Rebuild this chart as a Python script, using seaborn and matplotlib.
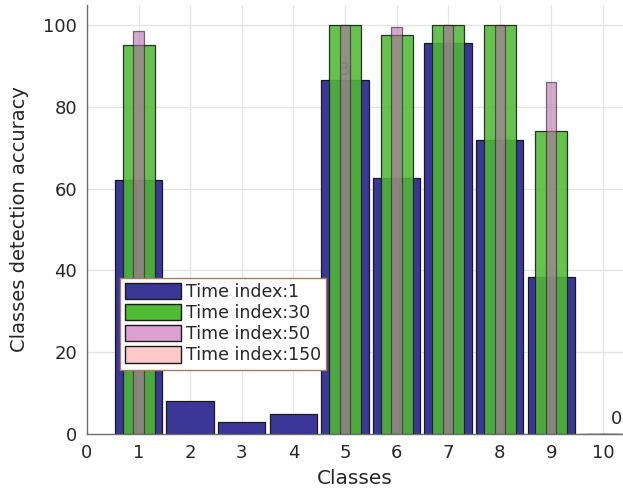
import matplotlib
matplotlib.use("Agg")
import matplotlib.pyplot as plt
import matplotlib.patches as mpatches
import seaborn as sns
import pandas as pd

# values
classes = [1, 2, 3, 4, 5, 6, 7, 8, 9, 10]
acc_t1 = [62, 8, 3, 5, 86.5, 62.5, 95.5, 72, 38.5, 0]
acc_t30 = [95, 0, 0, 0, 100, 97.5, 100, 100, 74, 0]
acc_t50 = [98.5, 0, 0, 0, 100, 99.5, 100, 100, 86, 0]
acc_t150 = [0, 0, 0, 0, 0, 0, 0, 0, 0, 0]
legend_labels = ["Time index:1", "Time index:30", "Time index:50", "Time index:150"]

df = pd.DataFrame({"cls": classes, "t1": acc_t1, "t30": acc_t30,
                   "t50": acc_t50, "t150": acc_t150})

sns.set_style("white")
plt.rcParams["font.family"] = ["DejaVu Sans"]

blue = "#3a3798"
green = "#4fba34"
pink = "#dca0d2"
light_pink = "#ffc8c8"

fig = plt.figure(figsize=(6.23, 4.95), dpi=100)
ax = fig.add_axes([0.1396, 0.1232, 0.8604, 0.8667])

sns.barplot(data=df, x="cls", y="t1", native_scale=True, width=0.92,
            color=blue, saturation=1, edgecolor="#1a1a1a", linewidth=0.9,
            ax=ax, zorder=2)
sns.barplot(data=df, x="cls", y="t30", native_scale=True, width=0.62,
            color=green, saturation=1, alpha=0.88, edgecolor="#1a1a1a",
            linewidth=0.9, ax=ax, zorder=3)
sns.barplot(data=df, x="cls", y="t50", native_scale=True, width=0.2,
            color="#b86aac", saturation=1, alpha=0.58, edgecolor="#1a1a1a",
            linewidth=0.9, ax=ax, zorder=4)

ax.set_xlim(0, 10.39)
ax.set_ylim(0, 104.9)
ax.set_xticks(range(0, 11))
ax.set_xticklabels([str(i) for i in range(0, 11)])
ax.set_yticks([0, 20, 40, 60, 80, 100])
ax.grid(True, color="#e4e4e4", linewidth=0.9, zorder=0)
ax.set_axisbelow(True)

for side in ["top", "right"]:
    ax.spines[side].set_visible(False)
for side in ["left", "bottom"]:
    ax.spines[side].set_color("#6e6e6e")
    ax.spines[side].set_linewidth(1.0)

ax.tick_params(axis="both", direction="in", length=4, color="#6e6e6e",
               labelsize=13, labelcolor="#262626", pad=7)
ax.set_xlabel("Classes", fontsize=14.5, color="#262626", labelpad=5)
ax.set_ylabel("Classes detection accuracy", fontsize=14, color="#262626",
              labelpad=10)

# stray labels seen in the reference
ax.text(5.0, 89, "3", color="#777777", alpha=0.5, fontsize=13,
        ha="center", va="center", zorder=5)
ax.text(10.38, 1.5, "0", color="#262626", fontsize=13, ha="right",
        va="bottom", clip_on=False)

handles = [
    mpatches.Patch(facecolor=blue, edgecolor="#1a1a1a", label=legend_labels[0]),
    mpatches.Patch(facecolor=green, edgecolor="#1a1a1a", label=legend_labels[1]),
    mpatches.Patch(facecolor=pink, edgecolor="#1a1a1a", label=legend_labels[2]),
    mpatches.Patch(facecolor=light_pink, edgecolor="#1a1a1a", label=legend_labels[3]),
]
leg = ax.legend(handles=handles, loc="upper left", bbox_to_anchor=(0.0616, 0.364),
                fontsize=12.5, handlelength=3.2, handleheight=1.05,
                handletextpad=0.3, labelspacing=0.18, borderpad=0.3,
                fancybox=False, framealpha=1, borderaxespad=0)
leg.get_frame().set_edgecolor("#b07a5a")
leg.get_frame().set_linewidth(1.0)
leg.set_zorder(10)

fig.savefig("out.png", dpi=100)
